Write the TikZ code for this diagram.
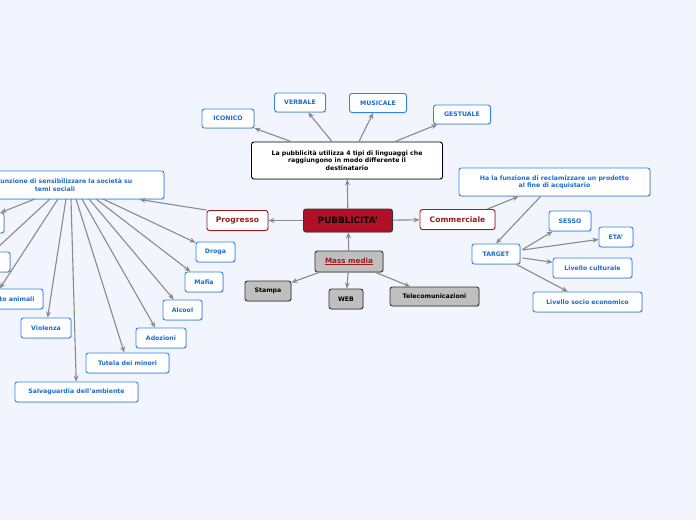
\documentclass[tikz,border=0pt]{standalone}
\usepackage{fontspec}
\setmainfont{DejaVu Sans}
\usetikzlibrary{arrows.meta,shadows,calc}
\definecolor{bg}{HTML}{F2F5FD}
\definecolor{bl}{HTML}{2F86E8}
\definecolor{blt}{HTML}{1C6BD0}
\definecolor{dr}{HTML}{9B1B1B}
\definecolor{mainred}{HTML}{B01028}
\definecolor{ar}{HTML}{8A8A8A}
\begin{document}
\begin{tikzpicture}[x=1pt,y=-1pt,
 base/.style={rounded corners=2.5pt,font=\bfseries\fontsize{6.2}{7.4}\selectfont,align=center,inner sep=0pt,drop shadow={shadow xshift=0.8pt,shadow yshift=-0.8pt,opacity=0.3}},
 bx/.style={base,draw=bl,line width=0.9pt,fill=white,text=blt,minimum height=19pt},
 rd/.style={base,draw=dr,line width=0.9pt,fill=white,text=dr,font=\bfseries\fontsize{7.6}{8}\selectfont,minimum height=20pt},
 gr/.style={base,draw=black!80,line width=0.9pt,fill=black!25,text=black,minimum height=19pt},
 ar/.style={draw=ar,line width=1.1pt,-{Stealth[length=6pt,width=5pt]}}]
\fill[bg] (0,0) rectangle (696,520);
\useasboundingbox (0,0) rectangle (696,520);
\node[base,draw=black!80,line width=0.9pt,fill=mainred,text=black,font=\bfseries\fontsize{8.8}{10}\selectfont,minimum width=89pt,minimum height=23pt] (pub) at (348,220.5) {PUBBLICITA'};
\node[base,draw=black,line width=0.9pt,fill=white,text=black,minimum width=191pt,minimum height=37pt] (ling) at (347,160.5) {La pubblicità utilizza 4 tipi di linguaggi che\\raggiungono in modo differente il\\destinatario};
\node[bx,minimum width=52pt] (ico) at (228,118.5) {ICONICO};
\node[bx,minimum width=51pt] (ver) at (300,102.5) {VERBALE};
\node[bx,minimum width=57pt] (mus) at (378,103) {MUSICALE};
\node[bx,minimum width=57pt] (ges) at (462,114.5) {GESTUALE};
\node[rd,minimum width=61pt] (pro) at (237.5,220.5) {Progresso};
\node[rd,minimum width=75pt] (com) at (457.5,219.5) {Commerciale};
\node[gr,minimum width=68pt,minimum height=21pt,text=dr,font=\bfseries\fontsize{7.2}{8}\selectfont] (mm) at (349,261.5) {\underline{Mass media}};
\node[gr,minimum width=46pt,minimum height=20pt] (sta) at (268,291) {Stampa};
\node[gr,minimum width=34pt,minimum height=20pt] (web) at (346,299) {WEB};
\node[gr,minimum width=89pt] (tel) at (434.5,296.5) {Telecomunicazioni};
\node[bx,minimum width=218pt,minimum height=28pt] (sen) at (55,185) {Ha la funzione di sensibilizzare la società su\\temi sociali};
\node[bx,minimum width=191pt,minimum height=28pt] (rec) at (554.5,182) {Ha la funzione di reclamizzare un prodotto\\al fine di acquistario};
\node[bx,minimum width=48pt,minimum height=20pt] (tar) at (496,254) {TARGET};
\node[bx,minimum width=42pt,minimum height=20pt] (ses) at (570,221) {SESSO};
\node[bx,minimum width=34pt,minimum height=20pt] (eta) at (616,237) {ETA'};
\node[bx,minimum width=79pt,minimum height=20pt] (cul) at (592.5,268) {Livello culturale};
\node[bx,minimum width=109pt,minimum height=20pt] (soc) at (587.5,302) {Livello socio economico};
\node[bx,minimum width=39pt,minimum height=20pt] (dro) at (215.5,252) {Droga};
\node[bx,minimum width=38pt,minimum height=20pt] (maf) at (204,282) {Mafia};
\node[bx,minimum width=39pt,minimum height=20pt] (alc) at (182.5,310) {Alcool};
\node[bx,minimum width=50pt,minimum height=20pt] (ado) at (161,338) {Adozioni};
\node[bx,minimum width=83pt,minimum height=20pt] (tut) at (127.5,363) {Tutela dei minori};
\node[bx,minimum width=123pt,minimum height=20pt] (sal) at (76.5,392) {Salvaguardia dell'ambiente};
\node[bx,minimum width=50pt,minimum height=20pt] (vio) at (46,328) {Violenza};
\node[bx,minimum width=100pt,minimum height=20pt] (ani) at (-7,299) {Maltrattamento animali};
\node[bx,minimum width=56pt,minimum height=20pt] (raz) at (-18,262) {Razzismo};
\node[bx,minimum width=60pt,minimum height=20pt] (fum) at (-26,223) {Fumo};
% edges
\draw[ar] (pub) -- (ling);
\draw[ar] (ling.north west)++(40,0) -- (ico);
\draw[ar] (ling.north)++(-15,0) -- (ver);
\draw[ar] (ling.north)++(12,0) -- (mus);
\draw[ar] (ling.north east)++(-48,0) -- (ges);
\draw[ar] (pub) -- (pro);
\draw[ar] (pub) -- (com);
\draw[ar] (mm) -- (pub);
\draw[ar] (mm) -- (sta);
\draw[ar] (mm) -- (web);
\draw[ar] (mm) -- (tel);
\draw[ar] (pro.north west) -- ($(sen.south east)+(-25,0)$);
\draw[ar] (com.north east)++(-8,0) -- ($(rec.south west)+(60,0)$);
\draw[ar] ($(rec.south west)+(82,0)$) -- (tar.north);
\draw[ar] (tar.north east)++(2,6) -- (ses);
\draw[ar] (tar.east)++(2,-4) -- (eta);
\draw[ar] (tar.east)++(2,4) -- (cul);
\draw[ar] (tar.south east)++(-4,0) -- (soc);
\foreach \t/\sx in {fum/35,raz/50,ani/58,vio/66,sal/71,tut/76,ado/82,alc/89,maf/96,dro/103}
  \draw[ar] (\sx,199) -- (\t);
\end{tikzpicture}
\end{document}
